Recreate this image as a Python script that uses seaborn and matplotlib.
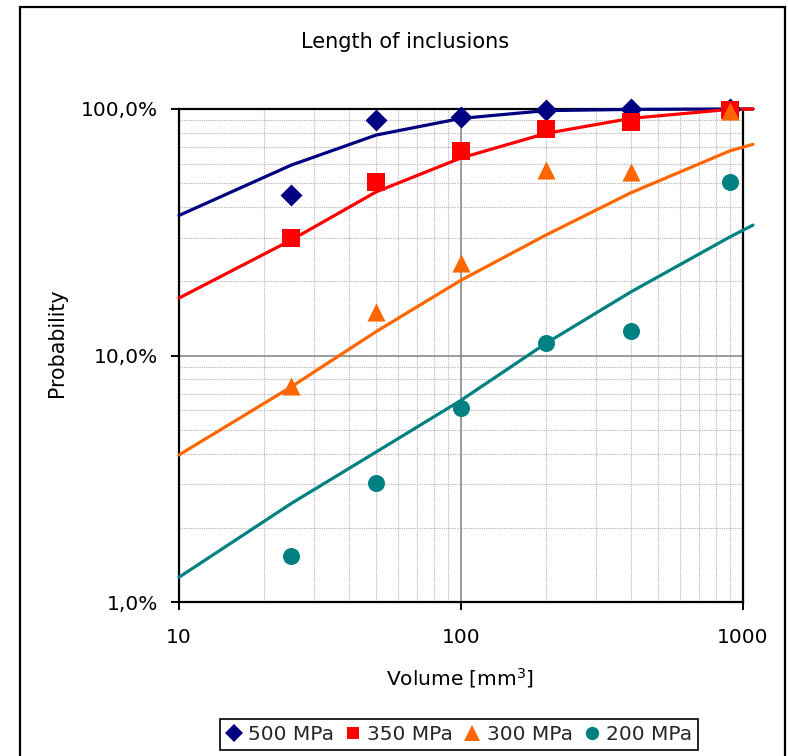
import numpy as np
import pandas as pd
import matplotlib
matplotlib.use("Agg")
import matplotlib.pyplot as plt
from matplotlib.lines import Line2D
from matplotlib.patches import Rectangle
import seaborn as sns

# ---------------- data ----------------
series_names = ["500 MPa", "350 MPa", "300 MPa", "200 MPa"]
colors = ["#000080", "#FF0000", "#FF6600", "#008080"]
markers = ["D", "s", "^", "o"]

# measured points (probability in %)
x_pts = [25, 50, 100, 200, 400, 900]
pts_500 = [44.8, 90.2, 93.0, 99.0, 99.6, 100.0]
pts_350 = [29.9, 50.4, 67.5, 82.7, 88.8, 99.0]
pts_300 = [7.5, 15.0, 23.7, 56.3, 55.5, 98.4]
pts_200 = [1.53, 3.05, 6.15, 11.2, 12.6, 50.4]

# model curves (probability in %)
x_line = [10, 25, 50, 100, 200, 400, 900, 1085]
line_500 = [37.0, 59.2, 78.4, 91.6, 98.5, 99.6, 100.0, 100.0]
line_350 = [17.1, 29.4, 46.1, 63.3, 79.6, 91.6, 99.7, 100.0]
line_300 = [3.95, 7.46, 12.5, 20.2, 30.8, 45.7, 67.7, 71.9]
line_200 = [1.26, 2.51, 4.06, 6.58, 11.2, 18.1, 30.3, 33.8]

x_ticks = [10, 100, 1000]
x_ticklabels = ["10", "100", "1000"]
y_ticks = [1, 10, 100]
y_ticklabels = ["1,0%", "10,0%", "100,0%"]

pts_all = [pts_500, pts_350, pts_300, pts_200]
lines_all = [line_500, line_350, line_300, line_200]

# ---------------- figure ----------------
sns.set_theme(style="white")
plt.rcParams["font.family"] = ["DejaVu Sans"]

W, H = 788, 756
fig = plt.figure(figsize=(W / 100, H / 100), dpi=100)
fig.patch.set_facecolor("white")

left, right, top, bottom = 179, 743, 109, 602
ax = fig.add_axes([left / W, 1 - bottom / H, (right - left) / W, (bottom - top) / H])
ax.set_facecolor("white")
ax.set_xscale("log")
ax.set_yscale("log")

# model lines
for name, vals, col in zip(series_names, lines_all, colors):
    df = pd.DataFrame({"x": x_line, "y": vals})
    sns.lineplot(data=df, x="x", y="y", color=col, linewidth=2.3, ax=ax,
                 sort=False, legend=False, estimator=None)
    ax.lines[-1].set_clip_on(False)
    ax.lines[-1].set_zorder(3)

# measured points
msize = {"D": 125, "s": 150, "^": 170, "o": 150}
for name, vals, col, mk in zip(series_names, pts_all, colors, markers):
    df = pd.DataFrame({"x": x_pts, "y": vals})
    sns.scatterplot(data=df, x="x", y="y", color=col, marker=mk, s=msize[mk],
                    linewidth=0, edgecolor=col, ax=ax, legend=False, zorder=4,
                    clip_on=False)

ax.set_xlim(10, 1000)
ax.set_ylim(1, 100)
ax.set_xticks(x_ticks)
ax.set_xticklabels(x_ticklabels)
ax.set_yticks(y_ticks)
ax.set_yticklabels(y_ticklabels)
ax.xaxis.set_minor_locator(matplotlib.ticker.LogLocator(base=10, subs=np.arange(2, 10)))
ax.yaxis.set_minor_locator(matplotlib.ticker.LogLocator(base=10, subs=np.arange(2, 10)))
ax.xaxis.set_minor_formatter(matplotlib.ticker.NullFormatter())
ax.yaxis.set_minor_formatter(matplotlib.ticker.NullFormatter())

ax.set_axisbelow(True)
ax.grid(which="major", color="#808080", linewidth=1.1, linestyle="-")
ax.grid(which="minor", color="#b4b4b4", linewidth=0.8, linestyle=(0, (1, 1)))

ax.tick_params(which="major", direction="out", length=6, width=1.4, color="black",
               labelsize=14.5, labelcolor="black")
ax.tick_params(axis="x", which="major", pad=13)
ax.tick_params(axis="y", which="major", pad=9)
ax.tick_params(which="minor", length=0)
ax.tick_params(bottom=True, left=True)
for sp in ax.spines.values():
    sp.set_visible(True)
    sp.set_color("black")
    sp.set_linewidth(1.6)

ax.set_xlabel("")
ax.set_ylabel("")

# texts
fig.text(405 / W, 1 - 48 / H, "Length of inclusions", ha="center", va="baseline",
         fontsize=15, color="black")
fig.text(57 / W, 1 - 343 / H, "Probability", ha="center", va="center",
         rotation=90, fontsize=14.8, color="black")
fig.text(459.5 / W, 1 - 678 / H, "Volume [mm$^3$]", ha="center", va="center",
         fontsize=14.5, color="black")

# legend
leg_ms = {"D": 9.0, "s": 9.3, "^": 11.0, "o": 9.6}
handles = [Line2D([], [], linestyle="none", marker=mk, color=col, markersize=leg_ms[mk],
                  markeredgewidth=0)
           for col, mk in zip(colors, markers)]
leg = fig.legend(handles, series_names, loc="center",
                 bbox_to_anchor=(459 / W, 1 - 734.5 / H), ncol=4, fontsize=14.5,
                 frameon=True, fancybox=False, edgecolor="black", framealpha=1,
                 handlelength=0.8, handletextpad=0.3, columnspacing=0.55,
                 borderpad=0.3, borderaxespad=0)
leg.get_frame().set_linewidth(1.2)

# outer chart frame
fig.patches.append(Rectangle((20 / W, -0.02), (785 - 20) / W, 1.02 - 7 / H,
                             transform=fig.transFigure, fill=False,
                             edgecolor="black", linewidth=1.6))

fig.savefig("out.png", dpi=100, facecolor="white")
